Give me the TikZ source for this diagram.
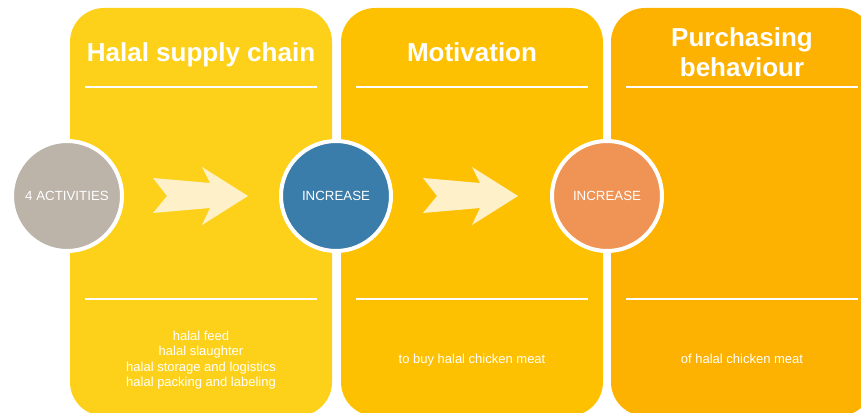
\documentclass[tikz,border=0pt]{standalone}
\usepackage{fontspec}
\setmainfont{Liberation Sans}
\definecolor{pone}{HTML}{FDD11A}
\definecolor{ptwo}{HTML}{FEC102}
\definecolor{pthree}{HTML}{FDB201}
\definecolor{greyc}{HTML}{BCB3A9}
\definecolor{bluec}{HTML}{3A7DAA}
\definecolor{orangec}{HTML}{EF9455}
\definecolor{arrowcream}{HTML}{FEF0C9}
\tikzset{
  panel/.style={rounded corners=34pt},
  sepline/.style={draw=white,line width=1.8pt},
  titletext/.style={text=white,font=\fontsize{26}{31}\selectfont\bfseries,anchor=base,align=center,inner sep=0pt},
  disc/.style={circle,draw=white,line width=4pt,minimum size=110pt,inner sep=0pt,text=white,font=\fontsize{13.3}{16}\selectfont},
  notetext/.style={text=white,font=\fontsize{13}{15.5}\selectfont,align=center,anchor=base,inner sep=0pt},
  chevronpic/.pic={\fill[arrowcream] (0,-18) -- (57,-13) -- (49,-29) -- (95,0) -- (49,29) -- (57,12) -- (0,17) -- (14,0) -- cycle;}
}
\begin{document}
\begin{tikzpicture}[x=1pt,y=-1pt]
\useasboundingbox (0,0) rectangle (861,412);
\begin{scope}
\clip (0,0) rectangle (861,412);
\fill[pone,panel] (70,8) rectangle (332,416);
\fill[ptwo,panel] (341,8) rectangle (603,416);
\fill[pthree,panel] (611,8) rectangle (873,416);
\end{scope}
% separators
\draw[sepline] (85,87) -- (317,87);
\draw[sepline] (356,87) -- (588,87);
\draw[sepline] (626,87) -- (858,87);
\draw[sepline] (85,299) -- (317,299);
\draw[sepline] (356,299) -- (588,299);
\draw[sepline] (626,299) -- (858,299);
% titles (base = baseline of the last line)
\node[titletext] (t1) at (201,62) {Halal supply chain};
\node[titletext] (t2) at (472,62) {Motivation};
\node[titletext] (t3) at (742,77) {Purchasing\\behaviour};
% arrows
\pic at (153,196) {chevronpic};
\pic at (423,196) {chevronpic};
% circles
\node[disc,fill=greyc] (c1) at (67,196) {4 ACTIVITIES};
\node[disc,fill=bluec] (c2) at (336,196) {INCREASE};
\node[disc,fill=orangec] (c3) at (607,196) {INCREASE};
% notes
\node[notetext] (n1) at (201,386.5) {halal feed\\halal slaughter\\halal storage and logistics\\halal packing and labeling};
\node[notetext] (n2) at (472,363) {to buy halal chicken meat};
\node[notetext] (n3) at (742,363) {of halal chicken meat};
\end{tikzpicture}
\end{document}
